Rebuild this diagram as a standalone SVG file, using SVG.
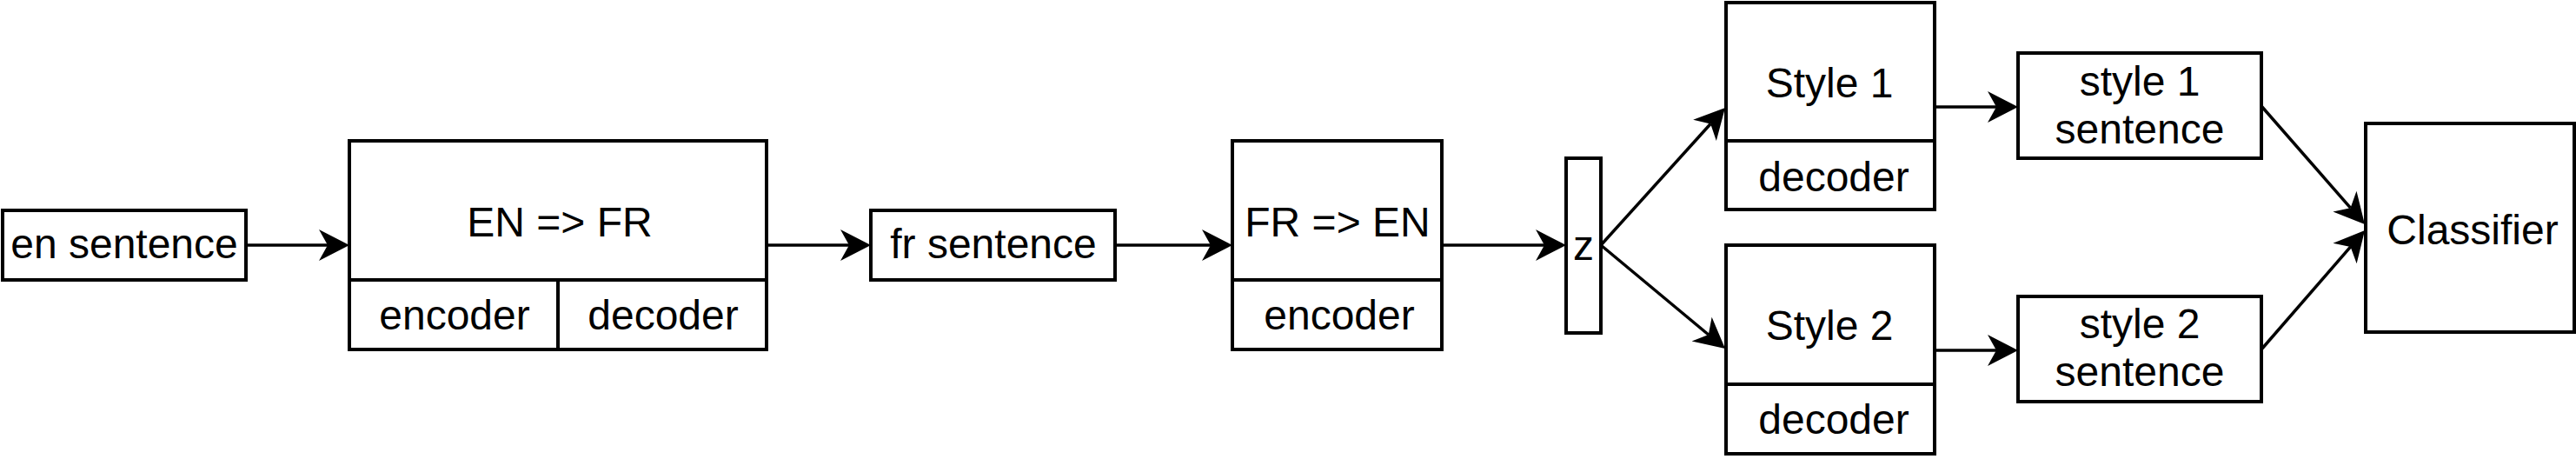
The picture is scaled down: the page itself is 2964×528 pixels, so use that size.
<svg xmlns="http://www.w3.org/2000/svg" width="2964" height="528" viewBox="0 0 2964 528">
<defs>
<style>
rect.b{fill:#fff;stroke:#000;stroke-width:4}
line.d{stroke:#000;stroke-width:4}
text{font-family:"Liberation Sans",Arial,Helvetica,sans-serif;font-size:48px;fill:#000;text-anchor:middle}
.c line{stroke:#000;stroke-width:3.5;marker-end:url(#ah)}
</style>
<marker id="ah" markerUnits="userSpaceOnUse" viewBox="0 0 36 38" markerWidth="36" markerHeight="38" refX="10" refY="19" orient="auto">
<path d="M35,19 L0,1 L10,19 L0,37 Z" fill="#000"/>
</marker>
</defs>
<rect width="2964" height="528" fill="#fff"/>
<g id="connectors" class="c">
<line x1="283" y1="282" x2="377" y2="282"/>
<line x1="882" y1="282" x2="977" y2="282"/>
<line x1="1283" y1="282" x2="1393" y2="282"/>
<line x1="1659" y1="282" x2="1777" y2="282"/>
<line x1="2226" y1="123" x2="2297" y2="123"/>
<line x1="2226" y1="403" x2="2297" y2="403"/>
<line x1="1842" y1="282" x2="1968.2" y2="142.5"/>
<line x1="1842" y1="282" x2="1965.8" y2="385"/>
<line x1="2602" y1="122" x2="2704.5" y2="239.2"/>
<line x1="2602" y1="402" x2="2704.6" y2="283.9"/>
</g>
<g id="en-sentence">
<rect class="b" x="3" y="242" width="280" height="80"/>
<text x="143" y="297">en sentence</text>
</g>
<g id="en-fr">
<rect class="b" x="402" y="162" width="480" height="240"/>
<line class="d" x1="402" y1="322" x2="882" y2="322"/>
<line class="d" x1="642" y1="322" x2="642" y2="402"/>
<text x="644" y="272">EN =&gt; FR</text>
<text x="523" y="379">encoder</text>
<text x="763" y="379">decoder</text>
</g>
<g id="fr-sentence">
<rect class="b" x="1002" y="242" width="281" height="80"/>
<text x="1143" y="297">fr sentence</text>
</g>
<g id="fr-en">
<rect class="b" x="1418" y="162" width="241" height="240"/>
<line class="d" x1="1418" y1="322" x2="1659" y2="322"/>
<text x="1539" y="272">FR =&gt; EN</text>
<text x="1541" y="379">encoder</text>
</g>
<g id="z">
<rect class="b" x="1802" y="182" width="40" height="201"/>
<text x="1822" y="299">z</text>
</g>
<g id="style1">
<rect class="b" x="1986" y="3" width="240" height="238"/>
<line class="d" x1="1986" y1="162" x2="2226" y2="162"/>
<text x="2105" y="112">Style 1</text>
<text x="2110" y="220">decoder</text>
</g>
<g id="style2">
<rect class="b" x="1986" y="282" width="240" height="240"/>
<line class="d" x1="1986" y1="442" x2="2226" y2="442"/>
<text x="2105" y="391">Style 2</text>
<text x="2110" y="499">decoder</text>
</g>
<g id="style1-sentence">
<rect class="b" x="2322" y="61" width="280" height="121"/>
<text x="2462" y="110">style 1</text>
<text x="2462" y="165">sentence</text>
</g>
<g id="style2-sentence">
<rect class="b" x="2322" y="341" width="280" height="121"/>
<text x="2462" y="389">style 2</text>
<text x="2462" y="444">sentence</text>
</g>
<g id="classifier">
<rect class="b" x="2722" y="142" width="240" height="240"/>
<text x="2845" y="281">Classifier</text>
</g>
</svg>
